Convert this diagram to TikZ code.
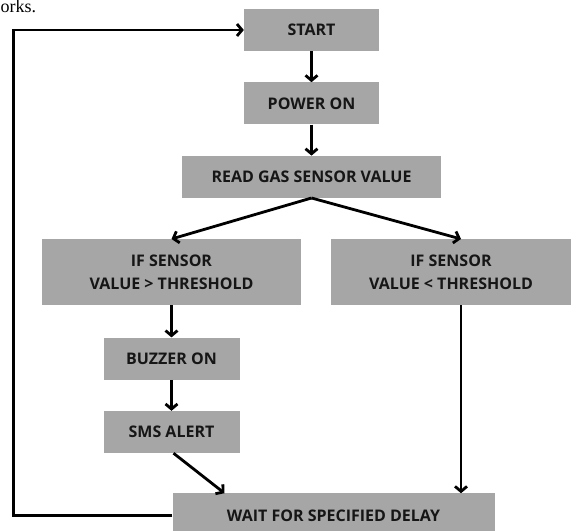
\documentclass[tikz,border=0pt]{standalone}
\usepackage{fontspec}
\setmainfont{Open Sans}
\newfontfamily\pagefont{Liberation Serif}
\usetikzlibrary{arrows.meta}
\usetikzlibrary{positioning}
\definecolor{boxgray}{HTML}{A6A6A6}
\definecolor{inkblack}{HTML}{161616}

\begin{document}
\begin{tikzpicture}[x=1pt, y=1pt, node distance=31pt, auto]
    % Define styles
    \tikzstyle{stepbox} = [rectangle, fill=boxgray, text=inkblack, text centered, inner sep=0pt, minimum height=42pt, font=\bfseries\fontsize{16}{23}\selectfont]
    \tikzstyle{relation} = [-{Straight Barb[length=5pt, width=12pt]}, line width=2.8pt]

    \useasboundingbox (0,0) rectangle (577,530);

    % Page text above the chart
    \node[anchor=base west, font=\pagefont\fontsize{18}{22}\selectfont, inner sep=0pt] (pagetext) at (0.5,517) {orks.};

    % Main steps
    \node[stepbox, minimum width=135pt] (start) at (311.5,500) {START};
    \node[stepbox, minimum width=135pt, below=of start] (power) {POWER ON};
    \node[stepbox, minimum width=259pt, below=of power] (read) {READ GAS SENSOR VALUE};

    % Conditions
    \node[stepbox, minimum width=259pt, minimum height=66pt, align=center, below=41pt of read, xshift=-140pt] (above) {IF SENSOR\\VALUE > THRESHOLD};
    \node[stepbox, minimum width=240pt, minimum height=66pt, align=center, below=41pt of read, xshift=139.5pt] (below) {IF SENSOR\\VALUE < THRESHOLD};

    % Alarm branch
    \node[stepbox, minimum width=136pt, below=32pt of above] (buzzer) {BUZZER ON};
    \node[stepbox, minimum width=136pt, below=of buzzer] (sms) {SMS ALERT};

    % Delay
    \node[stepbox, minimum width=322pt, minimum height=44pt, below=40pt of sms, xshift=162pt] (wait) {WAIT FOR SPECIFIED DELAY};

    % Relations
    \draw[relation] (start) -- (power);
    \draw[relation] (power) -- (read);
    \draw[relation] (read.south) -- (above.north);
    \draw[relation] (read.south) -- ([xshift=10pt]below.north);
    \draw[relation] (above) -- (buzzer);
    \draw[relation] (buzzer) -- (sms);
    \draw[relation] ([xshift=2pt]sms.south) -- ([xshift=-109pt]wait.north);
    \draw[relation] ([xshift=10pt]below.south) -- ([xshift=10pt]below.south |- wait.north);
    \draw[relation] (wait.west) -- ++(-159pt,0) |- (start.west);

\end{tikzpicture}
\end{document}
